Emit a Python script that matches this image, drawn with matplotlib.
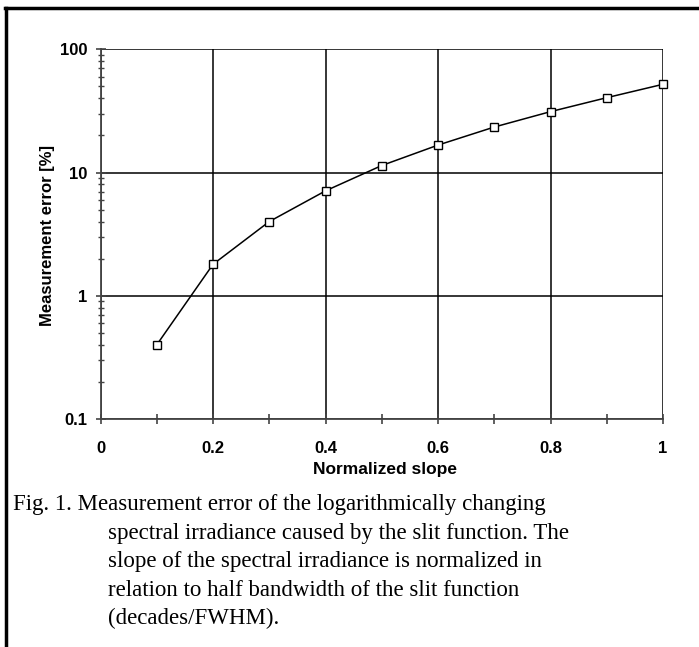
import matplotlib
matplotlib.use("Agg")
import matplotlib.pyplot as plt
from matplotlib.lines import Line2D
from matplotlib.ticker import FixedLocator, LogLocator, NullFormatter

# data
slope = [0.1, 0.2, 0.3, 0.4, 0.5, 0.6, 0.7, 0.8, 0.9, 1.0]
error = [0.4, 1.8, 4.0, 7.1, 11.4, 16.7, 23.4, 31.2, 40.5, 52.0]
xticks = [0, 0.2, 0.4, 0.6, 0.8, 1]
xlabels = ['0', '0.2', '0.4', '0.6', '0.8', '1']
yticks = [0.1, 1, 10, 100]
ylabels = ['0.1', '1', '10', '100']
caption = ["Fig. 1. Measurement error of the logarithmically changing",
           "spectral irradiance caused by the slit function. The",
           "slope of the spectral irradiance is normalized in",
           "relation to half bandwidth of the slit function",
           "(decades/FWHM)."]

plt.rcParams['font.family'] = ['Liberation Sans', 'DejaVu Sans']

fig = plt.figure(figsize=(6.99, 6.47), dpi=100)
ax = fig.add_axes([0.1438, 0.3524, 0.8047, 0.5714])

ax.plot(slope, error, color='black', lw=1.1, marker='s', ms=5.5,
        mfc='white', mec='black', mew=1.0, clip_on=False, zorder=3)

ax.set_yscale('log')
ax.set_xlim(0, 1)
ax.set_ylim(0.1, 100)

ax.xaxis.set_major_locator(FixedLocator(xticks))
ax.set_xticklabels(xlabels)
ax.xaxis.set_minor_locator(FixedLocator([0.1, 0.3, 0.5, 0.7, 0.9]))
ax.yaxis.set_major_locator(FixedLocator(yticks))
ax.set_yticklabels(ylabels)
ax.yaxis.set_minor_locator(LogLocator(base=10, subs=range(2, 10)))
ax.yaxis.set_minor_formatter(NullFormatter())

for lab in ax.get_xticklabels() + ax.get_yticklabels():
    lab.set_fontweight('bold')
    lab.set_fontsize(12)

ax.tick_params(axis='x', which='both', direction='inout', length=7, width=1.2,
               color='#444444', pad=12.5)
ax.tick_params(axis='y', which='major', direction='inout', length=7, width=1.2,
               color='#444444', pad=6)
ax.tick_params(axis='y', which='minor', direction='inout', length=5, width=1.0,
               color='#444444')

ax.grid(True, which='major', color='black', lw=1.1)
for s in ['top', 'right']:
    ax.spines[s].set_visible(False)
for s in ['left', 'bottom']:
    ax.spines[s].set_color('#444444')
    ax.spines[s].set_linewidth(1.3)

ax.set_xlabel('Normalized slope', fontweight='bold', fontsize=12.5)
ax.set_ylabel('Measurement error [%]', fontweight='bold', fontsize=12)
ax.xaxis.set_label_coords(0.506, -0.116)
ax.yaxis.set_label_coords(-0.081, 0.495)

# frame lines around the figure (top and left only)
fig.add_artist(Line2D([5/699, 1], [1-8/647, 1-8/647], color='black', lw=2.5,
                      transform=fig.transFigure))
fig.add_artist(Line2D([6/699, 6/699], [0, 1-8/647], color='black', lw=2.5,
                      transform=fig.transFigure))

# caption
ys = [510, 539, 567, 596, 624]
for i, line in enumerate(caption):
    x = 13 if i == 0 else 108
    fig.text(x/699, 1-ys[i]/647, line, family='Liberation Serif', fontsize=16.5,
             va='baseline', ha='left')

fig.savefig('out.png', dpi=100)
